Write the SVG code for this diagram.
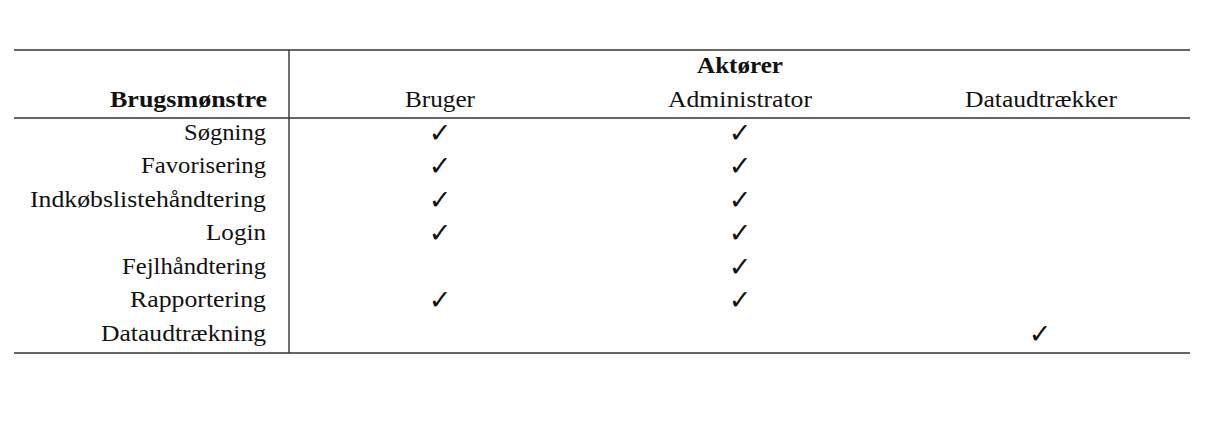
<svg xmlns="http://www.w3.org/2000/svg" width="1213" height="424" viewBox="0 0 1213 424">
<style>
.t{font-family:"Liberation Serif","DejaVu Serif",serif;font-size:23px;fill:#111}
.b{font-weight:bold}
.r{text-anchor:end}
.c{text-anchor:middle}
.ck{font-family:"DejaVu Sans",sans-serif;font-size:27px;fill:#111;text-anchor:middle}
.rule{stroke:#333;stroke-width:1.4;fill:none}
</style>
<rect width="1213" height="424" fill="#fff"/>
<g id="rules">
<line class="rule" x1="14" y1="50" x2="1190" y2="50"/>
<line class="rule" x1="14" y1="118" x2="1190" y2="118"/>
<line class="rule" x1="14" y1="353" x2="1190" y2="353"/>
<line class="rule" x1="289" y1="50" x2="289" y2="353"/>
</g>
<g id="header">
<text class="t b c" x="740" y="73" textLength="86" lengthAdjust="spacingAndGlyphs">Aktører</text>
<text class="t b r" x="267" y="107" textLength="157" lengthAdjust="spacingAndGlyphs">Brugsmønstre</text>
<text class="t c" x="440" y="107" textLength="70" lengthAdjust="spacingAndGlyphs">Bruger</text>
<text class="t c" x="740" y="107" textLength="144" lengthAdjust="spacingAndGlyphs">Administrator</text>
<text class="t c" x="1041" y="107" textLength="152" lengthAdjust="spacingAndGlyphs">Dataudtrækker</text>
</g>
<g id="rows">
<text class="t r" x="266" y="140" textLength="82" lengthAdjust="spacingAndGlyphs">Søgning</text>
<text class="t r" x="266" y="173" textLength="125" lengthAdjust="spacingAndGlyphs">Favorisering</text>
<text class="t r" x="266" y="207" textLength="236" lengthAdjust="spacingAndGlyphs">Indkøbslistehåndtering</text>
<text class="t r" x="266" y="240" textLength="60" lengthAdjust="spacingAndGlyphs">Login</text>
<text class="t r" x="266" y="274" textLength="144" lengthAdjust="spacingAndGlyphs">Fejlhåndtering</text>
<text class="t r" x="266" y="307" textLength="136" lengthAdjust="spacingAndGlyphs">Rapportering</text>
<text class="t r" x="266" y="341" textLength="165" lengthAdjust="spacingAndGlyphs">Dataudtrækning</text>
</g>
<g id="checks">
<text class="ck" x="440" y="142">✓</text>
<text class="ck" x="740" y="142">✓</text>
<text class="ck" x="440" y="175">✓</text>
<text class="ck" x="740" y="175">✓</text>
<text class="ck" x="440" y="209">✓</text>
<text class="ck" x="740" y="209">✓</text>
<text class="ck" x="440" y="242">✓</text>
<text class="ck" x="740" y="242">✓</text>
<text class="ck" x="740" y="276">✓</text>
<text class="ck" x="440" y="309">✓</text>
<text class="ck" x="740" y="309">✓</text>
<text class="ck" x="1040" y="343">✓</text>
</g>
</svg>
